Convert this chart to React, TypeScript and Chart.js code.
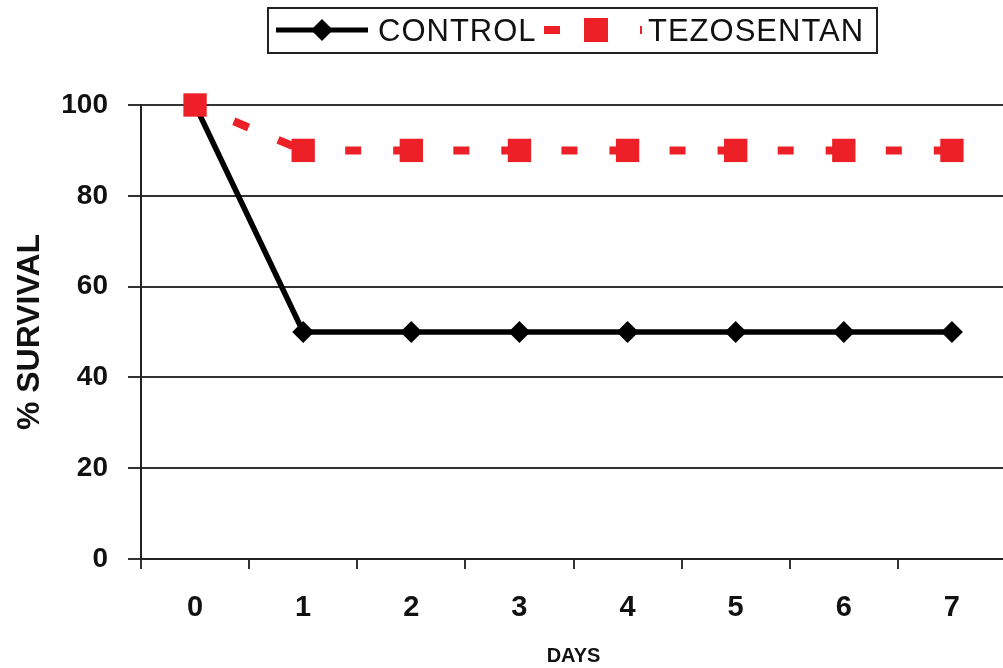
import React, { useEffect, useRef } from "react";
import { Chart, registerables } from "chart.js";

Chart.register(...registerables);

const DAYS = ["0", "1", "2", "3", "4", "5", "6", "7"];
const CONTROL = [100, 50, 50, 50, 50, 50, 50, 50];
const TEZOSENTAN = [100, 90, 90, 90, 90, 90, 90, 90];
const Y_TICKS = [0, 20, 40, 60, 80, 100];
const SERIES_NAMES = ["CONTROL", "TEZOSENTAN"];

const FONT = "'Liberation Sans', Arial, Helvetica, sans-serif";
const RED = "rgb(236, 32, 38)";
const GRID = "#333333";

const legendPlugin = {
  id: "boxedLegend",
  afterDraw(chart: any) {
    const ctx = chart.ctx as CanvasRenderingContext2D;
    ctx.save();
    // frame
    ctx.strokeStyle = "#222";
    ctx.lineWidth = 2;
    ctx.strokeRect(268, 8, 609, 45);
    const cy = 30;
    // CONTROL sample
    ctx.strokeStyle = "#000";
    ctx.lineWidth = 5;
    ctx.setLineDash([]);
    ctx.beginPath();
    ctx.moveTo(276, cy);
    ctx.lineTo(368, cy);
    ctx.stroke();
    ctx.fillStyle = "#000";
    ctx.beginPath();
    ctx.moveTo(322, cy - 11);
    ctx.lineTo(333, cy);
    ctx.lineTo(322, cy + 11);
    ctx.lineTo(311, cy);
    ctx.closePath();
    ctx.fill();
    // TEZOSENTAN sample
    ctx.strokeStyle = RED;
    ctx.lineWidth = 8;
    ctx.lineCap = "butt";
    ctx.setLineDash([16, 32]);
    ctx.beginPath();
    ctx.moveTo(544, cy);
    ctx.lineTo(642, cy);
    ctx.stroke();
    ctx.setLineDash([]);
    ctx.fillStyle = RED;
    ctx.fillRect(584, cy - 12, 24, 24);
    // texts
    ctx.fillStyle = "#111";
    ctx.font = `normal 31px ${FONT}`;
    (ctx as any).letterSpacing = "1px";
    ctx.textBaseline = "middle";
    ctx.textAlign = "left";
    ctx.fillText(SERIES_NAMES[0], 378, cy + 2);
    ctx.fillText(SERIES_NAMES[1], 648, cy + 2);
    ctx.restore();
  },
};

export default function App() {
  const ref = useRef<HTMLCanvasElement | null>(null);

  useEffect(() => {
    if (!ref.current) return;
    const chart = new Chart(ref.current, {
      type: "line",
      data: {
        labels: DAYS,
        datasets: [
          {
            label: SERIES_NAMES[0],
            data: CONTROL,
            order: 1,
            clip: false,
            borderColor: "#000",
            borderWidth: 5.5,
            pointStyle: "rectRot",
            pointRadius: 11,
            pointBackgroundColor: "#000",
            pointBorderColor: "#000",
            pointBorderWidth: 0,
            tension: 0,
          },
          {
            label: SERIES_NAMES[1],
            data: TEZOSENTAN,
            order: 0,
            clip: false,
            borderColor: RED,
            borderWidth: 8,
            borderCapStyle: "butt",
            segment: {
              borderDash: () => [16, 32],
              borderDashOffset: (c: any) => 6 + c.p0DataIndex * 0.0001,
            },
            pointStyle: "rect",
            pointRadius: 16.5,
            pointBackgroundColor: RED,
            pointBorderColor: RED,
            pointBorderWidth: 0,
            tension: 0,
          },
        ],
      },
      options: {
        responsive: false,
        animation: false,
        layout: { autoPadding: false, padding: { top: 105, left: 0, right: 0, bottom: 0 } },
        plugins: {
          legend: { display: false },
          tooltip: { enabled: false },
        },
        scales: {
          x: {
            type: "category",
            offset: true,
            grid: {
              offset: true,
              drawOnChartArea: false,
              drawTicks: true,
              tickLength: 10,
              color: GRID,
              lineWidth: 2,
            },
            border: { display: true, color: "#222", width: 2 },
            ticks: {
              font: { family: FONT, size: 29, weight: "bold" },
              color: "#111",
              padding: 22,
            },
            title: {
              display: true,
              text: "DAYS",
              font: { family: FONT, size: 20, weight: "bold" },
              color: "#111",
              padding: { top: 0, bottom: 0 },
            },
            afterFit: (s: any) => {
              s.height = 109;
            },
          },
          y: {
            min: 0,
            max: 100,
            afterBuildTicks: (s: any) => {
              s.ticks = Y_TICKS.map((v) => ({ value: v }));
            },
            grid: {
              color: GRID,
              lineWidth: 2,
              tickLength: 13,
              drawTicks: true,
            },
            border: { display: true, color: "#222", width: 2 },
            ticks: {
              font: { family: FONT, size: 28, weight: "bold" },
              color: "#111",
              padding: 20,
            },
            title: {
              display: true,
              text: "% SURVIVAL",
              font: { family: FONT, size: 32, weight: "bold" },
              color: "#111",
              padding: { top: 11, bottom: 0 },
            },
            afterFit: (s: any) => {
              s.width = 141;
            },
          },
        },
      },
      plugins: [legendPlugin],
    });
    return () => chart.destroy();
  }, []);

  return (
    <div
      style={{
        position: "fixed",
        left: 0,
        top: 0,
        width: 1003,
        height: 668,
        overflow: "hidden",
        background: "#fff",
      }}
    >
      <canvas ref={ref} width={1006} height={668} style={{ display: "block" }} />
    </div>
  );
}
